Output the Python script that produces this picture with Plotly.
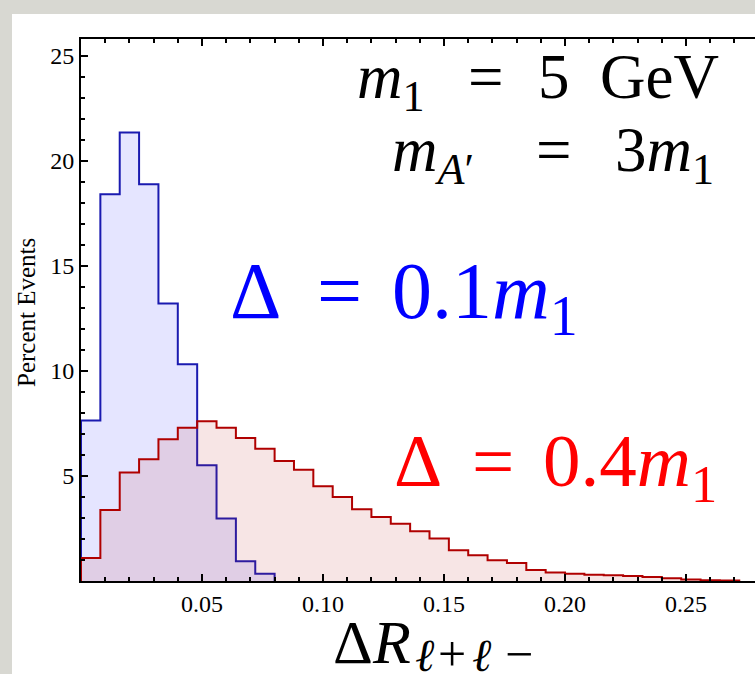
import plotly.graph_objects as go

# ---- data (percent of events per bin, bin width 0.008 in Delta R) ----
bin_width = 0.008
blue_values = [7.64, 18.41, 21.35, 18.89, 13.21, 10.32, 5.51, 2.97, 0.94, 0.35]
red_values = [1.10, 3.38, 5.16, 5.80, 6.75, 7.29, 7.60, 7.30, 6.81, 6.30,
              5.71, 5.29, 4.51, 4.00, 3.41, 3.05, 2.73, 2.37, 2.02, 1.46,
              1.22, 0.99, 0.86, 0.52, 0.40, 0.35, 0.30, 0.27, 0.24, 0.19,
              0.13, 0.07, 0.04, 0.02]
x_tick_vals = [0.05, 0.10, 0.15, 0.20, 0.25]
x_tick_text = ["0.05", "0.10", "0.15", "0.20", "0.25"]
y_tick_vals = [5, 10, 15, 20, 25]
y_tick_text = ["5", "10", "15", "20", "25"]

FONT = "Liberation Serif"
W, H = 755, 674
L, R, T, B = 81, 0, 39, 93
PW, PH = W - L - R, H - T - B


def step_xy(values):
    edges = [i * bin_width for i in range(len(values) + 1)]
    xs = [edges[0]] + edges
    ys = [0] + list(values) + [0]
    return xs, ys


def px(xp):
    return (xp - L) / PW


def py(yp):
    return (H - B - yp) / PH


fig = go.Figure()
bx, by = step_xy(blue_values)
rx, ry = step_xy(red_values)
fig.add_trace(go.Scatter(x=bx, y=by, mode="lines", line_shape="hv",
                         line=dict(color="#1a1ab0", width=2),
                         fill="tozeroy", fillcolor="rgba(40,40,255,0.12)",
                         showlegend=False, hoverinfo="skip"))
fig.add_trace(go.Scatter(x=rx, y=ry, mode="lines", line_shape="hv",
                         line=dict(color="#b00000", width=2),
                         fill="tozeroy", fillcolor="rgba(190,40,40,0.12)",
                         showlegend=False, hoverinfo="skip"))

axis_common = dict(showgrid=False, zeroline=False, showline=True,
                   linecolor="black", linewidth=2, ticks="inside",
                   tickcolor="black", tickwidth=1.5, ticklen=7,
                   tickfont=dict(family=FONT, size=24, color="black"))

fig.update_xaxes(range=[0, 0.2785], tickmode="array", tickvals=x_tick_vals,
                 ticktext=x_tick_text, mirror="ticks",
                 minor=dict(ticks="inside", ticklen=4, dtick=0.01,
                            tickcolor="black", tickwidth=1.5),
                 **axis_common)
fig.update_yaxes(range=[0, 25.8], tickmode="array", tickvals=y_tick_vals,
                 ticktext=y_tick_text, mirror=False,
                 minor=dict(ticks="inside", ticklen=4, dtick=1,
                            tickcolor="black", tickwidth=1.5),
                 **axis_common)

annotations = []


def piece(text, x, baseline, size, color="black", anchor="left"):
    # place text so that its baseline sits at the given pixel row
    annotations.append(dict(text=text, x=px(x), y=py(baseline - 0.891 * size - 1),
                            xanchor=anchor, yanchor="top",
                            font=dict(family=FONT, size=size, color=color)))


def centered(text, x, ymid, size, color="black"):
    annotations.append(dict(text=text, x=px(x), y=py(ymid),
                            xanchor="center", yanchor="middle",
                            font=dict(family=FONT, size=size, color=color)))


# m_1 = 5 GeV
piece("<i>m</i><sub>1</sub>", 391, 97, 63, anchor="center")
piece("=", 486, 97, 63, anchor="center")
piece("5", 554, 97, 63, anchor="center")
piece("GeV", 659, 97, 63, anchor="center")
# m_A' = 3 m_1
piece("<i>m</i><sub><i>A</i>′</sub>", 433, 170, 63, anchor="center")
piece("=", 554, 170, 63, anchor="center")
piece("3<i>m</i><sub>1</sub>", 664, 170, 63, anchor="center")
# blue label
piece("Δ", 228, 317, 80, color="#0000ff")
piece("=", 339, 317, 80, color="#0000ff", anchor="center")
piece("0.1<i>m</i><sub>1</sub>", 485, 317, 80, color="#0000ff", anchor="center")
# red label
piece("Δ", 392, 485, 75, color="#ff0000")
piece("=", 493, 485, 75, color="#ff0000", anchor="center")
piece("0.4<i>m</i><sub>1</sub>", 630, 485, 75, color="#ff0000", anchor="center")
# x axis title
piece("Δ<i>R</i>", 331, 662, 62)
piece("<i>ℓ</i>", 413, 670, 46)
centered("+", 452, 654, 50)
piece("<i>ℓ</i>", 470, 670, 46)
centered("−", 519, 654, 50)
# y axis title
annotations.append(dict(text="Percent Events", x=px(26), y=py(313), textangle=-90,
                        xanchor="center", yanchor="middle",
                        font=dict(family=FONT, size=25, color="black")))

for a in annotations:
    a.update(xref="paper", yref="paper", showarrow=False)

fig.update_layout(
    width=W, height=H, margin=dict(l=L, r=R, t=T, b=B),
    paper_bgcolor="#d8d8d2", plot_bgcolor="white",
    annotations=annotations,
    shapes=[dict(type="rect", xref="paper", yref="paper",
                 x0=px(12), x1=px(W + 10), y0=py(H + 10), y1=py(14),
                 fillcolor="white", line=dict(width=0), layer="below")],
)

fig.write_html("out.html")
